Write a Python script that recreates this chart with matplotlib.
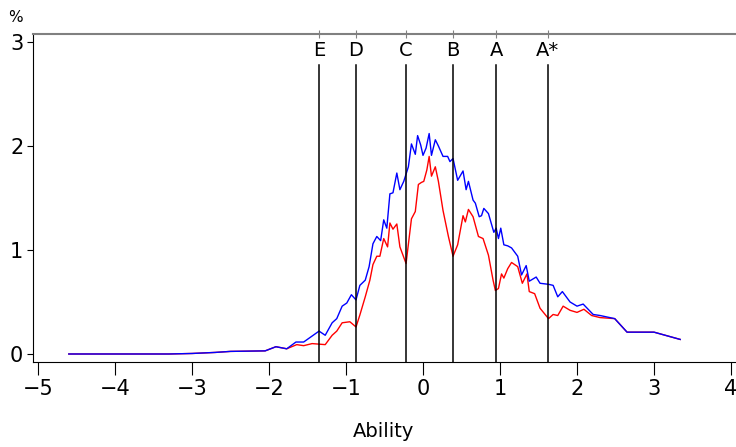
import matplotlib.pyplot as plt

# grade boundaries
grades = ['E', 'D', 'C', 'B', 'A', 'A*']
cuts = [-1.35, -0.87, -0.22, 0.39, 0.95, 1.62]

# blue series
xb = [-4.6, -3.3, -3.0, -2.7, -2.5, -2.05, -1.91, -1.77, -1.65, -1.55, -1.35, -1.27,
      -1.18, -1.12, -1.05, -0.99, -0.93, -0.87, -0.82, -0.75, -0.70, -0.65, -0.60,
      -0.55, -0.51, -0.47, -0.43, -0.39, -0.34, -0.30, -0.25, -0.19, -0.15, -0.10,
      -0.07, -0.03, 0.0, 0.04, 0.08, 0.11, 0.16, 0.20, 0.26, 0.32, 0.35, 0.39, 0.45,
      0.52, 0.56, 0.59, 0.65, 0.68, 0.73, 0.76, 0.79, 0.85, 0.92, 0.95, 0.98, 1.01,
      1.05, 1.10, 1.15, 1.23, 1.28, 1.34, 1.38, 1.47, 1.52, 1.63, 1.69, 1.75, 1.81,
      1.91, 2.00, 2.08, 2.21, 2.30, 2.49, 2.65, 3.0, 3.34]
yb = [0.0, 0.0, 0.005, 0.015, 0.025, 0.03, 0.07, 0.05, 0.115, 0.115, 0.22, 0.18,
      0.30, 0.34, 0.46, 0.49, 0.57, 0.52, 0.66, 0.71, 0.84, 1.06, 1.13,
      1.09, 1.29, 1.21, 1.54, 1.55, 1.74, 1.58, 1.66, 1.80, 2.02, 1.92,
      2.10, 2.01, 1.91, 1.98, 2.12, 1.91, 2.06, 2.00, 1.90, 1.90, 1.85, 1.88, 1.67,
      1.76, 1.58, 1.66, 1.48, 1.45, 1.32, 1.33, 1.40, 1.35, 1.17, 1.21, 1.11, 1.21,
      1.05, 1.04, 1.02, 0.94, 0.76, 0.85, 0.70, 0.74, 0.68, 0.67, 0.66, 0.55, 0.60,
      0.50, 0.46, 0.48, 0.38, 0.37, 0.34, 0.21, 0.21, 0.14]

# red series
xr = [-4.6, -3.3, -3.0, -2.7, -2.5, -2.05, -1.91, -1.77, -1.64, -1.55, -1.44, -1.27,
      -1.18, -1.12, -1.05, -0.95, -0.87, -0.82, -0.75, -0.69, -0.65, -0.60, -0.56,
      -0.51, -0.46, -0.43, -0.39, -0.34, -0.30, -0.22, -0.15, -0.10, -0.06, -0.02,
      0.01, 0.05, 0.08, 0.11, 0.16, 0.20, 0.26, 0.33, 0.39, 0.45, 0.52, 0.55, 0.59,
      0.65, 0.72, 0.78, 0.85, 0.91, 0.94, 0.98, 1.02, 1.05, 1.10, 1.15, 1.23, 1.29,
      1.35, 1.38, 1.45, 1.52, 1.63, 1.69, 1.75, 1.82, 1.91, 2.00, 2.09, 2.19, 2.30,
      2.49, 2.65, 3.0, 3.34]
yr = [0.0, 0.0, 0.005, 0.015, 0.025, 0.03, 0.07, 0.05, 0.09, 0.08, 0.10, 0.09,
      0.18, 0.22, 0.30, 0.31, 0.26, 0.375, 0.55, 0.71, 0.86, 0.94, 0.94,
      1.11, 1.03, 1.26, 1.20, 1.25, 1.03, 0.87, 1.30, 1.37, 1.63, 1.65,
      1.66, 1.77, 1.90, 1.71, 1.80, 1.66, 1.38, 1.13, 0.94, 1.05, 1.33, 1.27, 1.39,
      1.32, 1.13, 1.11, 0.95, 0.71, 0.61, 0.63, 0.77, 0.73, 0.82, 0.88, 0.84, 0.68,
      0.77, 0.60, 0.58, 0.44, 0.34, 0.38, 0.37, 0.46, 0.42, 0.40, 0.43, 0.37, 0.35,
      0.34, 0.21, 0.21, 0.14]

plt.rcParams['font.family'] = ['DejaVu Sans']
fig = plt.figure(figsize=(7.36, 4.47), dpi=100)
ax = fig.add_axes([33 / 736, 85 / 447, 702 / 736, 328 / 447])

ax.plot(xr, yr, color='red', lw=1)
ax.plot(xb, yb, color='blue', lw=1)

for c, g in zip(cuts, grades):
    ax.axvline(c, ymin=0, ymax=0.905, color='black', lw=1.1)
    ax.text(c, 2.92, g, ha='center', va='center', fontsize=14, color='black')

ax.set_xlim(-5.065, 4.052)
ax.set_ylim(-0.077, 3.077)
ax.set_xticks(range(-5, 5))
ax.set_yticks([0, 1, 2, 3])
ax.tick_params(axis='x', length=9, labelsize=15, pad=3)
ax.tick_params(axis='y', length=4, labelsize=15, pad=3)
ax.spines['right'].set_visible(False)
ax.spines['top'].set_color('grey')
ax.spines['top'].set_linewidth(1.5)

sec = ax.secondary_xaxis('top')
sec.set_xticks(cuts, labels=[])
sec.tick_params(direction='inout', length=6, color='grey')
sec.spines['top'].set_visible(False)

ax.set_xlabel('Ability', fontsize=14, labelpad=17)
fig.text(15 / 736, 1 - 17 / 447, '%', ha='center', va='center', fontsize=11)

fig.savefig('out.png', dpi=100)
